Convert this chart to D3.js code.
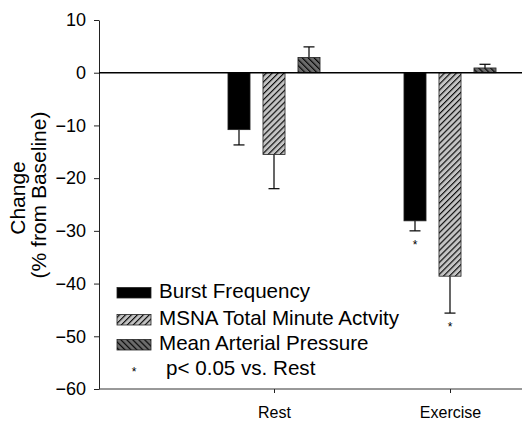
<!DOCTYPE html>
<html>
<head>
<meta charset="utf-8">
<script src="https://cdn.jsdelivr.net/npm/d3@7"></script>
<style>
  body { margin: 0; background: #fff; }
  svg { display: block; font-family: Arial, "Liberation Sans", Helvetica, sans-serif; }
</style>
</head>
<body>
<div id="vis"></div>
<script>
// data
const GROUPS = ["Rest", "Exercise"];
const SERIES = ["Burst Frequency", "MSNA Total Minute Actvity", "Mean Arterial Pressure"];
const MEANS = {
  "Burst Frequency": [-10.8, -28.1],
  "MSNA Total Minute Actvity": [-15.5, -38.6],
  "Mean Arterial Pressure": [2.9, 0.9]
};
const ERRORS = {
  "Burst Frequency": [2.9, 1.9],
  "MSNA Total Minute Actvity": [6.5, 7.0],
  "Mean Arterial Pressure": [2.0, 0.7]
};
// significant vs. rest (series, group)
const SIGNIFICANT = [["Burst Frequency", "Exercise"], ["MSNA Total Minute Actvity", "Exercise"]];
const Y_TICKS = [-60, -50, -40, -30, -20, -10, 0, 10];
const LEGEND_NOTE = "p< 0.05 vs. Rest";

// constants for the layout
const FRAME_WIDTH = 522;
const FRAME_HEIGHT = 421;
const MARGINS = {left: 99, right: 0, top: 20, bottom: 32};
const VIS_WIDTH = FRAME_WIDTH - MARGINS.left - MARGINS.right;
const VIS_HEIGHT = FRAME_HEIGHT - MARGINS.top - MARGINS.bottom;

const FRAME = d3.select("#vis")
  .append("svg")
  .attr("width", FRAME_WIDTH)
  .attr("height", FRAME_HEIGHT);

// hatch patterns
const defs = FRAME.append("defs");
function hatch(id, bg, angle) {
  const p = defs.append("pattern")
    .attr("id", id)
    .attr("patternUnits", "userSpaceOnUse")
    .attr("width", 4.2)
    .attr("height", 4.2)
    .attr("patternTransform", "rotate(" + angle + ")");
  p.append("rect").attr("width", 4.2).attr("height", 4.2).attr("fill", bg);
  p.append("line")
    .attr("x1", 0.6).attr("x2", 0.6)
    .attr("y1", 0).attr("y2", 4.2)
    .attr("stroke", "#000")
    .attr("stroke-width", 1.1);
}
hatch("hatchLight", "#c4c4c4", 45);
hatch("hatchDark", "#6c6c6c", -45);

const FILLS = {
  "Burst Frequency": "#000",
  "MSNA Total Minute Actvity": "url(#hatchLight)",
  "Mean Arterial Pressure": "url(#hatchDark)"
};

// scales
const Y_SCALE = d3.scaleLinear()
  .domain([-60, 10])
  .range([MARGINS.top + VIS_HEIGHT, MARGINS.top]);

const X_SCALE = d3.scalePoint()
  .domain(GROUPS)
  .range([MARGINS.left + 175, MARGINS.left + 351]);

const X_SUB = d3.scaleBand()
  .domain(SERIES)
  .range([-52.5, 52.5])
  .paddingInner(0.37)
  .paddingOuter(0.185);

// y axis
const yAxis = FRAME.append("g")
  .attr("transform", "translate(" + MARGINS.left + ",0)")
  .call(d3.axisLeft(Y_SCALE).tickValues(Y_TICKS).tickSize(5).tickSizeOuter(0).tickPadding(8).tickFormat(d3.format("d")));
yAxis.selectAll("text").attr("font-size", "18px").attr("fill", "#000").attr("font-family", null);
yAxis.selectAll("line, path").attr("stroke", "#222");

// x axis (ticks and labels), with a full-width base line
const xAxis = FRAME.append("g")
  .attr("transform", "translate(0," + Y_SCALE(-60) + ")")
  .call(d3.axisBottom(X_SCALE).tickSize(4).tickSizeOuter(0).tickPadding(13.5));
xAxis.select(".domain").remove();
xAxis.selectAll("text").attr("font-size", "16px").attr("fill", "#000").attr("font-family", null);
xAxis.selectAll("line").attr("stroke", "#222");

FRAME.append("line")
  .attr("x1", MARGINS.left)
  .attr("x2", FRAME_WIDTH)
  .attr("y1", Y_SCALE(-60))
  .attr("y2", Y_SCALE(-60))
  .attr("stroke", "#333")
  .attr("stroke-width", 1);

// flatten to one record per bar
const bars = [];
GROUPS.forEach((g, gi) => {
  SERIES.forEach((s) => {
    bars.push({group: g, series: s, value: MEANS[s][gi], err: ERRORS[s][gi]});
  });
});

// error bars (one-sided, away from zero)
const errG = FRAME.append("g");
bars.forEach((d) => {
  const cx = X_SCALE(d.group) + X_SUB(d.series) + X_SUB.bandwidth() / 2;
  const end = d.value < 0 ? d.value - d.err : d.value + d.err;
  errG.append("line")
    .attr("x1", cx).attr("x2", cx)
    .attr("y1", Y_SCALE(d.value)).attr("y2", Y_SCALE(end))
    .attr("stroke", "#000").attr("stroke-width", 1.2);
  errG.append("line")
    .attr("x1", cx - 5.5).attr("x2", cx + 5.5)
    .attr("y1", Y_SCALE(end)).attr("y2", Y_SCALE(end))
    .attr("stroke", "#000").attr("stroke-width", 1.2);
});

// bars
FRAME.append("g")
  .selectAll("rect")
  .data(bars)
  .enter()
  .append("rect")
  .attr("x", d => X_SCALE(d.group) + X_SUB(d.series))
  .attr("y", d => Y_SCALE(Math.max(0, d.value)))
  .attr("width", X_SUB.bandwidth())
  .attr("height", d => Math.abs(Y_SCALE(d.value) - Y_SCALE(0)))
  .attr("fill", d => FILLS[d.series])
  .attr("stroke", "#222")
  .attr("stroke-width", 0.8);

// zero line
FRAME.append("line")
  .attr("x1", MARGINS.left)
  .attr("x2", FRAME_WIDTH)
  .attr("y1", Y_SCALE(0))
  .attr("y2", Y_SCALE(0))
  .attr("stroke", "#000")
  .attr("stroke-width", 1.5);

// significance stars
SIGNIFICANT.forEach(([s, g]) => {
  const gi = GROUPS.indexOf(g);
  const end = MEANS[s][gi] - ERRORS[s][gi];
  FRAME.append("text")
    .attr("x", X_SCALE(g) + X_SUB(s) + X_SUB.bandwidth() / 2)
    .attr("y", Y_SCALE(end) + 18)
    .attr("text-anchor", "middle")
    .attr("font-size", "12px")
    .text("*");
});

// y axis label
FRAME.append("text")
  .attr("transform", "translate(25,198) rotate(-90)")
  .attr("text-anchor", "middle")
  .attr("font-size", "21px")
  .text("Change");
FRAME.append("text")
  .attr("transform", "translate(46,195) rotate(-90)")
  .attr("text-anchor", "middle")
  .attr("font-size", "21px")
  .text("(% from Baseline)");

// legend
const LEG_X = 117;
const LEG_Y = [298, 325, 350];
SERIES.forEach((s, i) => {
  FRAME.append("rect")
    .attr("x", LEG_X)
    .attr("y", LEG_Y[i] - 10.5)
    .attr("width", 34)
    .attr("height", 10.5)
    .attr("fill", FILLS[s])
    .attr("stroke", "#222")
    .attr("stroke-width", 0.8);
  FRAME.append("text")
    .attr("x", LEG_X + 42)
    .attr("y", LEG_Y[i])
    .attr("font-size", "20.6px")
    .text(s);
});
FRAME.append("text")
  .attr("x", LEG_X + 17)
  .attr("y", 376)
  .attr("text-anchor", "middle")
  .attr("font-size", "12px")
  .text("*");
FRAME.append("text")
  .attr("x", LEG_X + 49)
  .attr("y", 375)
  .attr("font-size", "20.6px")
  .text(LEGEND_NOTE);
</script>
</body>
</html>
